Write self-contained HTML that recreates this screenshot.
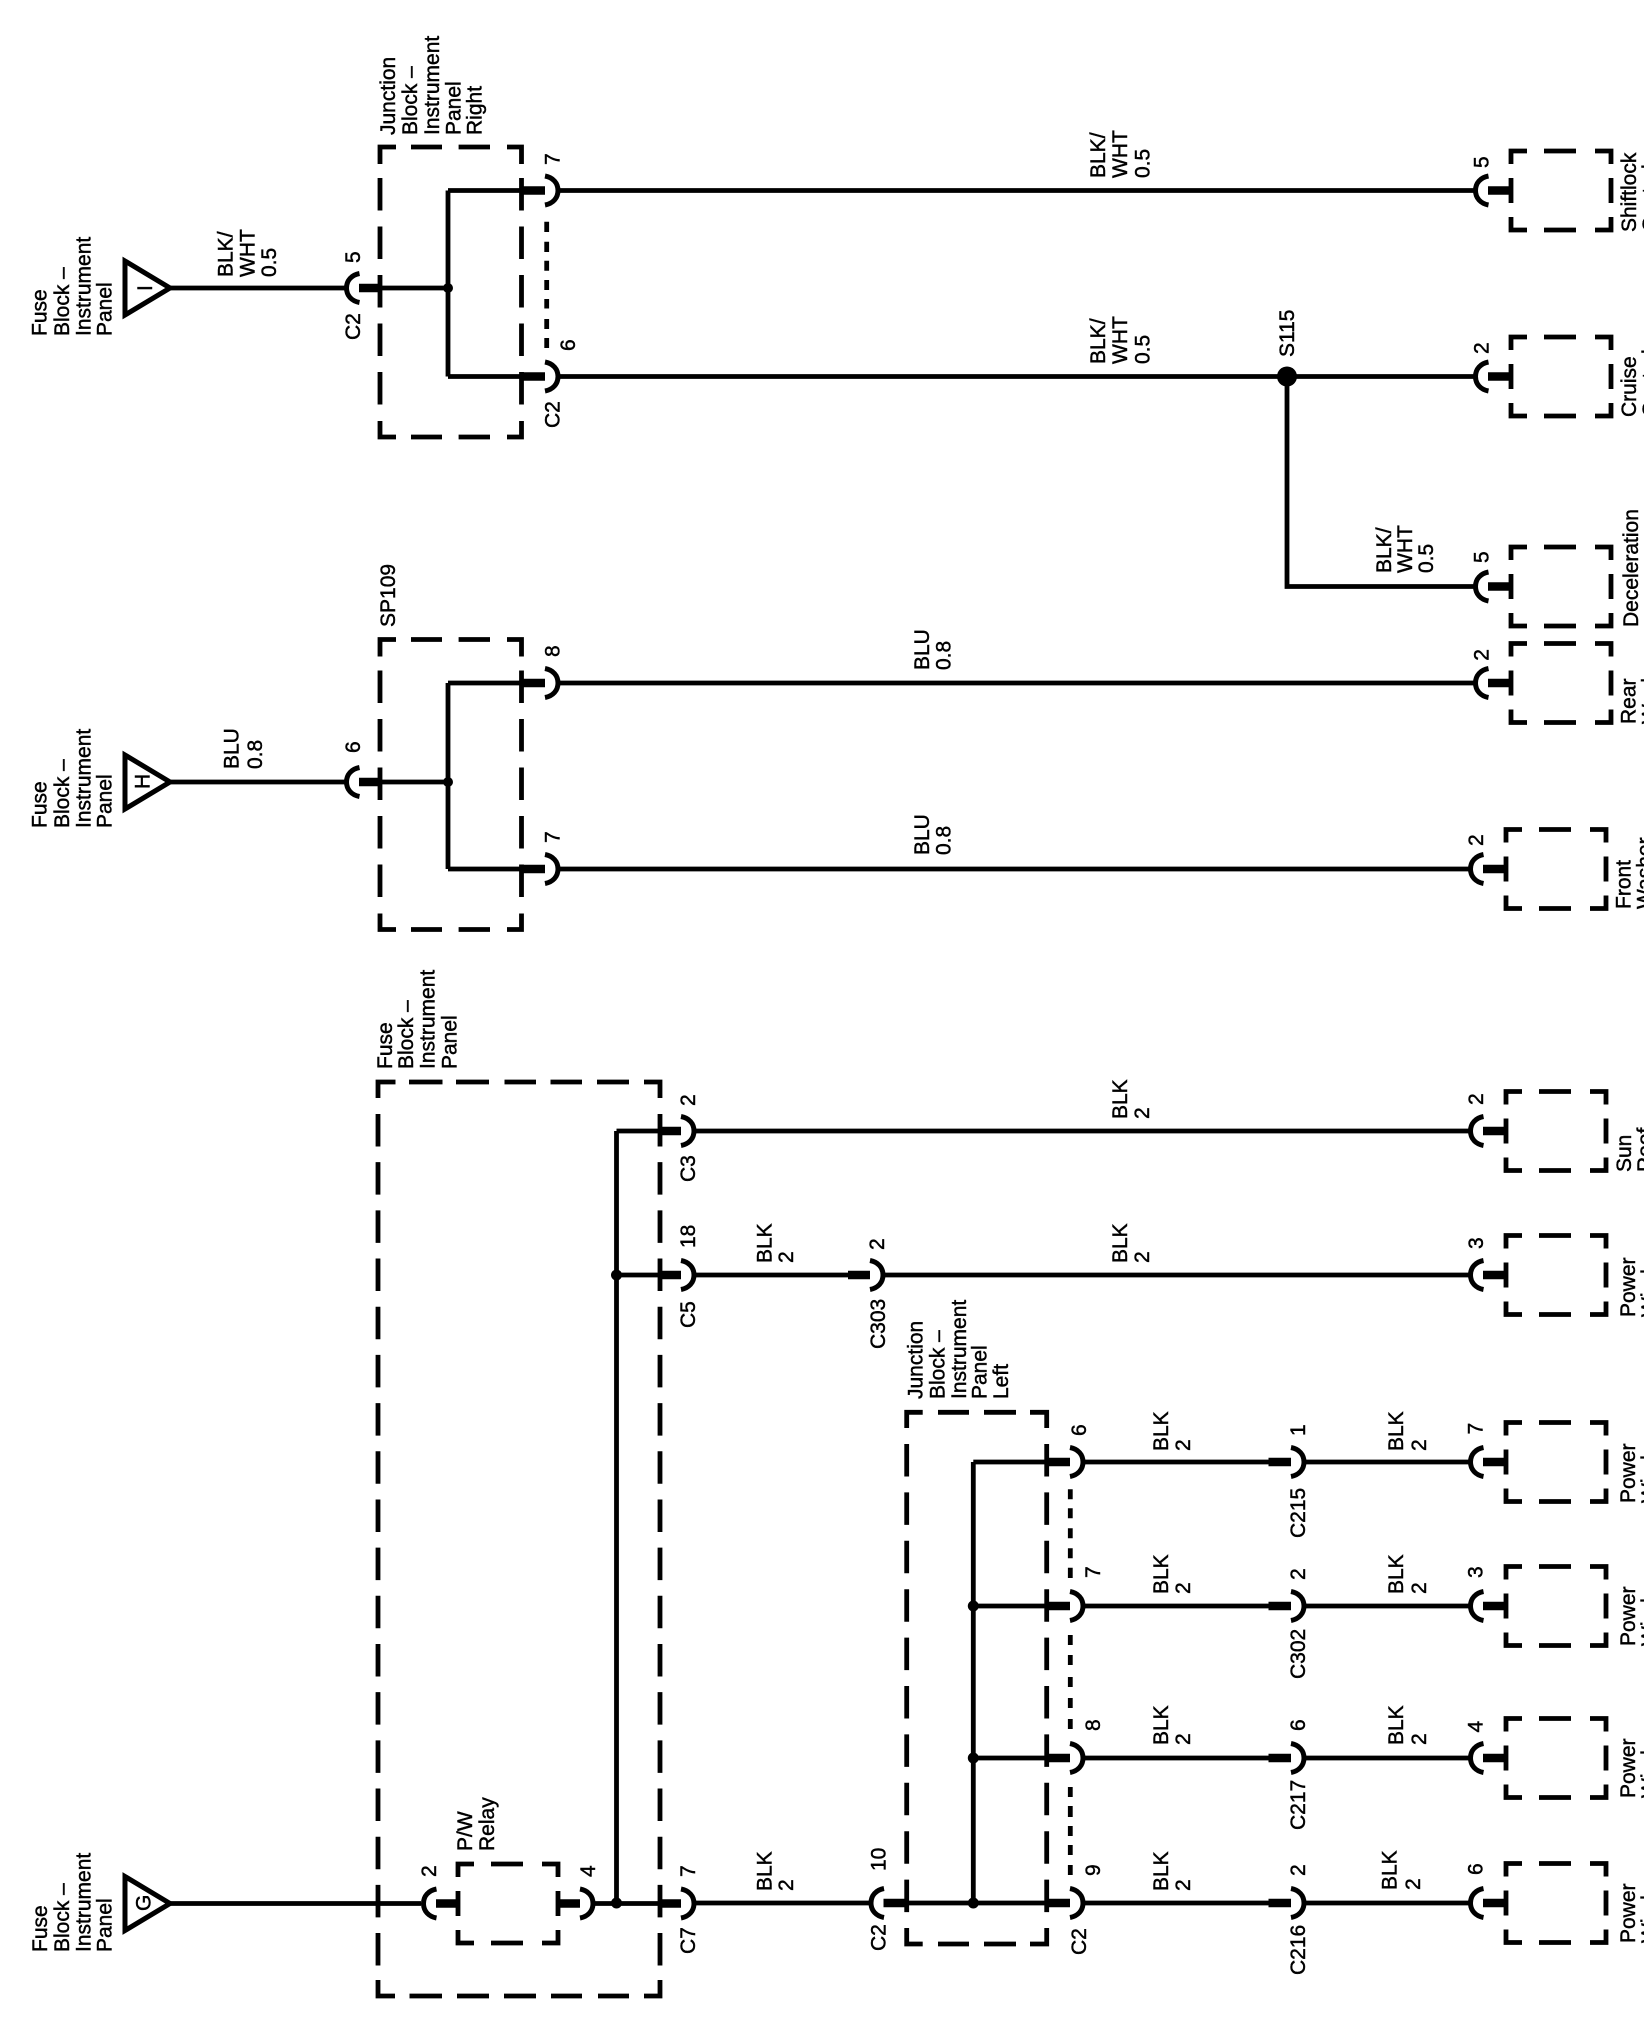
<!DOCTYPE html>
<html>
<head>
<meta charset="utf-8">
<title>Wiring diagram</title>
<style>
html,body{margin:0;padding:0;background:#fff;width:1648px;height:2040px;overflow:hidden}
svg{display:block}
text{font-family:"Liberation Sans",Arial,sans-serif;font-size:21px;fill:#000;stroke:#000;stroke-width:.45}
.w{fill:none;stroke:#000;stroke-width:4.8;stroke-linejoin:miter;stroke-linecap:butt}
.s{fill:none;stroke:#000;stroke-width:8.5}
.b{fill:none;stroke:#000;stroke-width:4.8}
.d{fill:#000}
</style>
</head>
<body>
<svg xmlns="http://www.w3.org/2000/svg" width="1648" height="2040" viewBox="0 0 1648 2040">
<defs>
<path id="a" d="M15.5,-14.5 C7.5,-13 2.5,-7.5 2.5,0 C2.5,7.5 7.5,13 15.5,14.5" fill="none" stroke="#000" stroke-width="5"/>
<path id="c" d="M0,-14.5 C8,-13 13,-7.5 13,0 C13,7.5 8,13 0,14.5" fill="none" stroke="#000" stroke-width="5"/>
<path id="box" class="b" d="M0,13V0H16M33,0H65M84,0H100V13M0,27V52M100,27V52M0,66V79H16M33,79H65M84,79H100V66"/>
<g id="jb">
<path class="b" d="M380 164V147H396M411 147H442M458.6 147H490M507 147H521.5V164M380 421V437H396M411 437H442M458.6 437H490M507 437H521.5V421"/>
<path class="b" stroke-dasharray="32.5 16" d="M380 178V405M521.5 178V405"/>
</g>
</defs>

<!-- dashed containers -->
<use href="#jb"/>
<use href="#jb" y="492.5"/>
<path class="b" d="M378 1098V1082H395.5M409 1082H442.5M456 1082H489M504.5 1082H536M550.5 1082H582M597 1082H629M644 1082H660V1098M378 1980V1996H395M409.5 1996H442M457 1996H489M504 1996H536M551 1996H582M598 1996H629M644 1996H660V1980"/>
<path class="b" stroke-dasharray="32.5 15.68" d="M378 1114V1966M660 1114V1966"/>
<path class="b" d="M906.7 1428V1412.3H922.7M938 1412.3H969M984 1412.3H1016M1030 1412.3H1046.7V1428M906.7 1928V1944H922.7M938 1944H969M984 1944H1016M1030 1944H1046.7V1928"/>
<path class="b" stroke-dasharray="32.5 15.9" d="M906.7 1444V1913M1046.7 1444V1913"/>

<!-- small boxes -->
<use href="#box" x="1511" y="151"/>
<use href="#box" x="1511" y="337"/>
<use href="#box" x="1511" y="547"/>
<use href="#box" x="1511" y="643.5"/>
<use href="#box" x="1506" y="829.5"/>
<use href="#box" x="1506" y="1091.5"/>
<use href="#box" x="1506" y="1235.5"/>
<use href="#box" x="1506" y="1422.5"/>
<use href="#box" x="1506" y="1566.5"/>
<use href="#box" x="1506" y="1718.5"/>
<use href="#box" x="1506" y="1863.5"/>
<use href="#box" x="458" y="1864"/>

<!-- triangles -->
<path class="b" style="stroke-width:5" d="M125 261L170 288L125 315Z"/>
<path class="b" style="stroke-width:5" d="M125 755L170 782L125 809Z"/>
<path class="b" style="stroke-width:5" d="M125 1876.5L170 1903.5L125 1930.5Z"/>

<!-- wires -->
<path class="w" d="M169 288H345M380 288H448M448 190.5V376.5M448 190.5H521M448 376.5H521M558 190.5H1475M558 376.5H1475M1287 376.5V586.5H1475"/>
<path class="w" d="M169 782H345M380 782H448M448 683V869M448 683H521M448 869H521M558 683H1475M558 869H1470"/>
<path class="w" d="M169 1903.5H421M593 1903.5H660M616.5 1131V1903M616.5 1131H660M616.5 1275H660M694 1131H1470M694 1275H848M883 1275H1470M694 1903H869M907 1903H1047"/>
<path class="w" d="M973.3 1462V1903M973.3 1462H1047M973.3 1606H1047M973.3 1758H1047M1083 1462H1269M1083 1606H1269M1083 1758H1269M1083 1903H1269M1304 1462H1470M1304 1606H1470M1304 1758H1470M1304 1903H1470"/>

<!-- thick stubs -->
<path class="s" d="M359 288H380M359 782H380M521 190.5H545M521 376.5H545M521 683H545M521 869H545M660 1131H681M660 1275H681M848 1275H870M436 1903.5H458M558 1903.5H580M660 1903.5H681M883.5 1903H907M1047 1462H1070M1047 1606H1070M1047 1758H1070M1047 1903H1070M1268.5 1462H1291M1268.5 1606H1291M1268.5 1758H1291M1268.5 1903H1291M1488 190.5H1511M1488 376.5H1511M1488 586.5H1511M1488 683H1511M1483 869H1506M1483 1131H1506M1483 1275H1506M1483 1462H1506M1483 1606H1506M1483 1758H1506M1483 1903H1506"/>

<!-- connector arcs -->
<use href="#a" x="344" y="288"/><use href="#a" x="344" y="782"/><use href="#a" x="421" y="1903.5"/><use href="#a" x="868.5" y="1903"/>
<use href="#a" x="1473" y="190.5"/><use href="#a" x="1473" y="376.5"/><use href="#a" x="1473" y="586.5"/><use href="#a" x="1473" y="683"/>
<use href="#a" x="1468" y="869"/><use href="#a" x="1468" y="1131"/><use href="#a" x="1468" y="1275"/><use href="#a" x="1468" y="1462"/><use href="#a" x="1468" y="1606"/><use href="#a" x="1468" y="1758"/><use href="#a" x="1468" y="1903"/>
<use href="#c" x="545" y="190.5"/><use href="#c" x="545" y="376.5"/><use href="#c" x="545" y="683"/><use href="#c" x="545" y="869"/>
<use href="#c" x="681" y="1131"/><use href="#c" x="681" y="1275"/><use href="#c" x="870" y="1275"/><use href="#c" x="580" y="1903.5"/><use href="#c" x="681" y="1903.5"/>
<use href="#c" x="1070" y="1462"/><use href="#c" x="1070" y="1606"/><use href="#c" x="1070" y="1758"/><use href="#c" x="1070" y="1903"/>
<use href="#c" x="1291" y="1462"/><use href="#c" x="1291" y="1606"/><use href="#c" x="1291" y="1758"/><use href="#c" x="1291" y="1903"/>

<!-- shared-connector dashed lines -->
<path class="b" d="M546.7 221.7V232M546.7 241.7V252M546.7 260.7V270.7M546.7 280V290M546.7 299V308.5M546.7 319V329M546.7 338V348"/>
<path class="b" d="M1070.3 1489.3V1499.3M1070.3 1508.3V1518.3M1070.3 1528.3V1538.3M1070.3 1548.3V1558.3M1070.3 1567.7V1578M1070.3 1635V1645M1070.3 1655V1665M1070.3 1677V1687M1070.3 1698V1708M1070.3 1719V1729M1070.3 1787V1797M1070.3 1806V1817M1070.3 1826V1836M1070.3 1845V1855M1070.3 1865V1875"/>

<!-- dots -->
<circle class="d" cx="448" cy="288" r="5"/>
<circle class="d" cx="448" cy="782" r="5"/>
<circle class="d" cx="616.5" cy="1275" r="5.5"/>
<circle class="d" cx="616.5" cy="1903" r="5.5"/>
<circle class="d" cx="973.3" cy="1606" r="5.5"/>
<circle class="d" cx="973.3" cy="1758" r="5.5"/>
<circle class="d" cx="973.3" cy="1903" r="5.5"/>
<circle class="d" cx="1287" cy="376.5" r="10"/>

<!-- text: group I -->
<text transform="translate(46.7 336) rotate(-90)">Fuse</text>
<text transform="translate(69 336) rotate(-90)">Block –</text>
<text transform="translate(90.5 336) rotate(-90)">Instrument</text>
<text transform="translate(111.5 336) rotate(-90)">Panel</text>
<text transform="translate(152 291) rotate(-90)">I</text>
<text transform="translate(232.5 277) rotate(-90)">BLK/</text>
<text transform="translate(254.5 277) rotate(-90)">WHT</text>
<text transform="translate(276 277) rotate(-90)">0.5</text>
<text transform="translate(360 263) rotate(-90)">5</text>
<text transform="translate(360 340) rotate(-90)">C2</text>
<text transform="translate(395 135) rotate(-90)">Junction</text>
<text transform="translate(417 135) rotate(-90)">Block –</text>
<text transform="translate(439 135) rotate(-90)">Instrument</text>
<text transform="translate(460.5 135) rotate(-90)">Panel</text>
<text transform="translate(481.5 135) rotate(-90)">Right</text>
<text transform="translate(559.5 165) rotate(-90)">7</text>
<text transform="translate(575 351) rotate(-90)">6</text>
<text transform="translate(559.5 428) rotate(-90)">C2</text>
<text transform="translate(1105 178) rotate(-90)">BLK/</text>
<text transform="translate(1127 178) rotate(-90)">WHT</text>
<text transform="translate(1149.5 178) rotate(-90)">0.5</text>
<text transform="translate(1105 364) rotate(-90)">BLK/</text>
<text transform="translate(1127 364) rotate(-90)">WHT</text>
<text transform="translate(1149.5 364) rotate(-90)">0.5</text>
<text transform="translate(1294 357) rotate(-90)">S115</text>
<text transform="translate(1391 573) rotate(-90)">BLK/</text>
<text transform="translate(1412 573) rotate(-90)">WHT</text>
<text transform="translate(1433 573) rotate(-90)">0.5</text>
<text transform="translate(1488.5 168) rotate(-90)">5</text>
<text transform="translate(1488.5 354) rotate(-90)">2</text>
<text transform="translate(1488.5 563) rotate(-90)">5</text>
<text transform="translate(1488.5 660.7) rotate(-90)">2</text>
<text transform="translate(1483 846) rotate(-90)">2</text>
<text transform="translate(1636 232) rotate(-90)">Shiftlock</text>
<text transform="translate(1657 232) rotate(-90)">Control</text>
<text transform="translate(1636 417) rotate(-90)">Cruise</text>
<text transform="translate(1657 417) rotate(-90)">Control</text>
<text transform="translate(1638 627) rotate(-90)">Deceleration</text>
<text transform="translate(1635.7 724) rotate(-90)">Rear</text>
<text transform="translate(1656.7 724) rotate(-90)">Washer</text>
<text transform="translate(1630.7 909) rotate(-90)">Front</text>
<text transform="translate(1651.7 909) rotate(-90)">Washer</text>

<!-- text: group H -->
<text transform="translate(46.7 828) rotate(-90)">Fuse</text>
<text transform="translate(69 828) rotate(-90)">Block –</text>
<text transform="translate(90.5 828) rotate(-90)">Instrument</text>
<text transform="translate(111.5 828) rotate(-90)">Panel</text>
<text transform="translate(149.5 789) rotate(-90)">H</text>
<text transform="translate(238.5 769) rotate(-90)">BLU</text>
<text transform="translate(262 769) rotate(-90)">0.8</text>
<text transform="translate(360 753) rotate(-90)">6</text>
<text transform="translate(395 627) rotate(-90)">SP109</text>
<text transform="translate(559.5 657) rotate(-90)">8</text>
<text transform="translate(559.5 843) rotate(-90)">7</text>
<text transform="translate(929 670) rotate(-90)">BLU</text>
<text transform="translate(950.7 670) rotate(-90)">0.8</text>
<text transform="translate(929 855) rotate(-90)">BLU</text>
<text transform="translate(950.7 855) rotate(-90)">0.8</text>

<!-- text: fuse block -->
<text transform="translate(392 1069) rotate(-90)">Fuse</text>
<text transform="translate(413 1069) rotate(-90)">Block –</text>
<text transform="translate(434.5 1069) rotate(-90)">Instrument</text>
<text transform="translate(456.5 1069) rotate(-90)">Panel</text>
<text transform="translate(695 1106) rotate(-90)">2</text>
<text transform="translate(695 1182) rotate(-90)">C3</text>
<text transform="translate(695 1248) rotate(-90)">18</text>
<text transform="translate(695 1328) rotate(-90)">C5</text>
<text transform="translate(771.5 1263) rotate(-90)">BLK</text>
<text transform="translate(793 1263) rotate(-90)">2</text>
<text transform="translate(884 1250) rotate(-90)">2</text>
<text transform="translate(885 1349) rotate(-90)">C303</text>
<text transform="translate(1127 1119) rotate(-90)">BLK</text>
<text transform="translate(1149 1119) rotate(-90)">2</text>
<text transform="translate(1127 1263) rotate(-90)">BLK</text>
<text transform="translate(1149 1263) rotate(-90)">2</text>
<text transform="translate(1483 1105) rotate(-90)">2</text>
<text transform="translate(1483 1249) rotate(-90)">3</text>
<text transform="translate(1631 1172) rotate(-90)">Sun</text>
<text transform="translate(1652 1172) rotate(-90)">Roof</text>
<text transform="translate(1635 1317) rotate(-90)">Power</text>
<text transform="translate(1656 1317) rotate(-90)">Window</text>

<!-- text: group G -->
<text transform="translate(47 1952) rotate(-90)">Fuse</text>
<text transform="translate(69 1952) rotate(-90)">Block –</text>
<text transform="translate(90.5 1952) rotate(-90)">Instrument</text>
<text transform="translate(111.5 1952) rotate(-90)">Panel</text>
<text transform="translate(150.5 1911) rotate(-90)">G</text>
<text transform="translate(436 1877) rotate(-90)">2</text>
<text transform="translate(472 1851) rotate(-90)">P/W</text>
<text transform="translate(494 1851) rotate(-90)">Relay</text>
<text transform="translate(595 1877) rotate(-90)">4</text>
<text transform="translate(695 1877) rotate(-90)">7</text>
<text transform="translate(695 1954) rotate(-90)">C7</text>
<text transform="translate(771.5 1891) rotate(-90)">BLK</text>
<text transform="translate(793 1891) rotate(-90)">2</text>
<text transform="translate(885.5 1871) rotate(-90)">10</text>
<text transform="translate(885.5 1951) rotate(-90)">C2</text>
<text transform="translate(922.4 1399) rotate(-90)">Junction</text>
<text transform="translate(944.5 1399) rotate(-90)">Block –</text>
<text transform="translate(966 1399) rotate(-90)">Instrument</text>
<text transform="translate(986.5 1399) rotate(-90)">Panel</text>
<text transform="translate(1008 1399) rotate(-90)">Left</text>
<text transform="translate(1086 1436) rotate(-90)">6</text>
<text transform="translate(1100 1578) rotate(-90)">7</text>
<text transform="translate(1100 1731) rotate(-90)">8</text>
<text transform="translate(1100 1876) rotate(-90)">9</text>
<text transform="translate(1086 1955) rotate(-90)">C2</text>
<text transform="translate(1168 1451) rotate(-90)">BLK</text>
<text transform="translate(1190 1451) rotate(-90)">2</text>
<text transform="translate(1168 1594) rotate(-90)">BLK</text>
<text transform="translate(1190 1594) rotate(-90)">2</text>
<text transform="translate(1168 1745) rotate(-90)">BLK</text>
<text transform="translate(1190 1745) rotate(-90)">2</text>
<text transform="translate(1168 1891) rotate(-90)">BLK</text>
<text transform="translate(1190 1891) rotate(-90)">2</text>
<text transform="translate(1305 1436) rotate(-90)">1</text>
<text transform="translate(1305 1538) rotate(-90)">C215</text>
<text transform="translate(1305 1580) rotate(-90)">2</text>
<text transform="translate(1305 1679) rotate(-90)">C302</text>
<text transform="translate(1305 1731) rotate(-90)">6</text>
<text transform="translate(1305 1830) rotate(-90)">C217</text>
<text transform="translate(1305 1876) rotate(-90)">2</text>
<text transform="translate(1305 1975) rotate(-90)">C216</text>
<text transform="translate(1403 1451) rotate(-90)">BLK</text>
<text transform="translate(1426 1451) rotate(-90)">2</text>
<text transform="translate(1403 1594) rotate(-90)">BLK</text>
<text transform="translate(1426 1594) rotate(-90)">2</text>
<text transform="translate(1403 1745) rotate(-90)">BLK</text>
<text transform="translate(1426 1745) rotate(-90)">2</text>
<text transform="translate(1396.5 1890) rotate(-90)">BLK</text>
<text transform="translate(1420 1890) rotate(-90)">2</text>
<text transform="translate(1482.5 1434.5) rotate(-90)">7</text>
<text transform="translate(1482.5 1578) rotate(-90)">3</text>
<text transform="translate(1482.5 1732.5) rotate(-90)">4</text>
<text transform="translate(1482.5 1875) rotate(-90)">6</text>
<text transform="translate(1635 1503) rotate(-90)">Power</text>
<text transform="translate(1656 1503) rotate(-90)">Window</text>
<text transform="translate(1635 1646) rotate(-90)">Power</text>
<text transform="translate(1656 1646) rotate(-90)">Window</text>
<text transform="translate(1635 1798) rotate(-90)">Power</text>
<text transform="translate(1656 1798) rotate(-90)">Window</text>
<text transform="translate(1635 1943) rotate(-90)">Power</text>
<text transform="translate(1656 1943) rotate(-90)">Window</text>

<!-- reference crops the clipped second label lines at the right edge -->
<rect x="1644" y="0" width="4" height="2040" fill="#fff"/>
</svg>
</body>
</html>
